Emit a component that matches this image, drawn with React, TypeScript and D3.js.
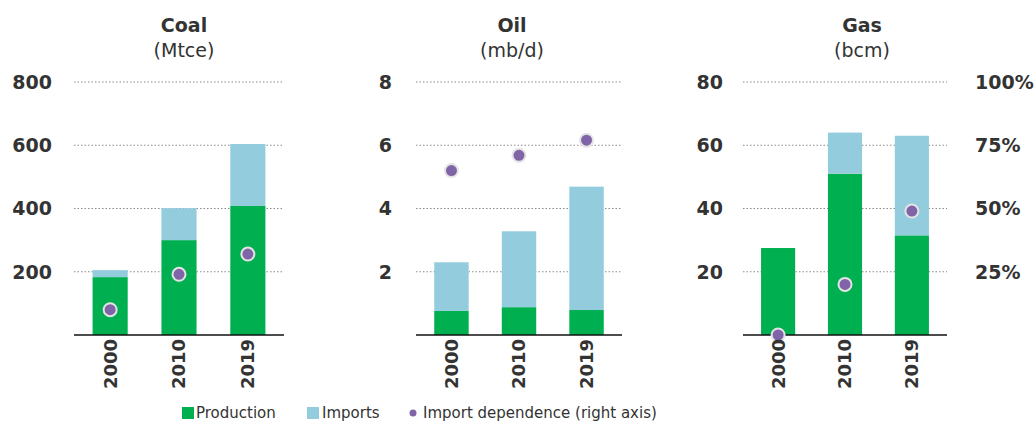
import React from 'react';
import * as d3 from 'd3';

// values
const years = ['2000', '2010', '2019'];

const coalProduction = [183, 300, 408];
const coalImports = [22, 101, 196];
const coalDependence = [0.1, 0.24, 0.32];

const oilProduction = [0.76, 0.88, 0.79];
const oilImports = [1.54, 2.4, 3.9];
const oilDependence = [0.65, 0.71, 0.77];

const gasProduction = [27.5, 51, 31.5];
const gasImports = [0, 13, 31.5];
const gasDependence = [0, 0.2, 0.49];

const coalTicks = [200, 400, 600, 800];
const oilTicks = [2, 4, 6, 8];
const gasTicks = [20, 40, 60, 80];
const shareTicks = [0.25, 0.5, 0.75, 1];

const legendItems = ['Production', 'Imports', 'Import dependence (right axis)'];

const GREEN = '#00b050';
const BLUE = '#93cddd';
const PURPLE = '#8064a8';
const TEXT = '#333333';
const FONT = '"DejaVu Sans", sans-serif';

const W = 1036;
const H = 428;
const top = 82;
const bottom = 335;

interface Panel {
  title: string;
  unit: string;
  x0: number;
  x1: number;
  labelX: number;
  titleX: number;
  max: number;
  ticks: number[];
  production: number[];
  imports: number[];
  dependence: number[];
  rightAxis: boolean;
}

const panels: Panel[] = [
  { title: 'Coal', unit: '(Mtce)', x0: 74, x1: 284, labelX: 52, titleX: 184, max: 800, ticks: coalTicks,
    production: coalProduction, imports: coalImports, dependence: coalDependence, rightAxis: false },
  { title: 'Oil', unit: '(mb/d)', x0: 416, x1: 622, labelX: 392, titleX: 512, max: 8, ticks: oilTicks,
    production: oilProduction, imports: oilImports, dependence: oilDependence, rightAxis: false },
  { title: 'Gas', unit: '(bcm)', x0: 743, x1: 947, labelX: 723, titleX: 862, max: 80, ticks: gasTicks,
    production: gasProduction, imports: gasImports, dependence: gasDependence, rightAxis: true },
];

const shareScale = d3.scaleLinear().domain([0, 1]).range([bottom, top]);

function PanelChart({ p }: { p: Panel }) {
  const x = d3.scaleBand<string>()
    .domain(years)
    .range([p.x0, p.x1])
    .paddingInner(0.49)
    .paddingOuter(0.27);
  const y = d3.scaleLinear().domain([0, p.max]).range([bottom, top]);

  return (
    <g>
      <text x={p.titleX} y={32} textAnchor="middle" fontSize={19} fontWeight="bold" fill={TEXT}>{p.title}</text>
      <text x={p.titleX} y={57} textAnchor="middle" fontSize={19} fill={TEXT}>{p.unit}</text>

      {/* gridlines + left ticks */}
      {p.ticks.map(t => (
        <g key={t}>
          <line x1={p.x0} x2={p.x1} y1={y(t)} y2={y(t)} stroke="#8a8a8a" strokeWidth={1} strokeDasharray="1.5,2" />
          <text x={p.labelX} y={y(t)} dy="0.36em" textAnchor="end" fontSize={19} fontWeight="bold" fill={TEXT}>{t}</text>
        </g>
      ))}

      {p.rightAxis && shareTicks.map(t => (
        <text key={t} x={975} y={shareScale(t)} dy="0.36em" textAnchor="start" fontSize={19} fontWeight="bold" fill={TEXT}>
          {d3.format('.0%')(t)}
        </text>
      ))}

      {/* stacked bars */}
      {years.map((yr, i) => {
        const prod = p.production[i];
        const imp = p.imports[i];
        return (
          <g key={yr}>
            <rect x={x(yr)} width={x.bandwidth()} y={y(prod)} height={y(0) - y(prod)} fill={GREEN} />
            {imp > 0 && (
              <rect x={x(yr)} width={x.bandwidth()} y={y(prod + imp)} height={y(prod) - y(prod + imp)} fill={BLUE} />
            )}
          </g>
        );
      })}

      <line x1={p.x0} x2={p.x1} y1={bottom} y2={bottom} stroke="#111" strokeWidth={1.5} />

      {/* import dependence dots */}
      {years.map((yr, i) => (
        <circle key={yr} cx={(x(yr) as number) + x.bandwidth() / 2} cy={shareScale(p.dependence[i])} r={6.5}
          fill={PURPLE} stroke="#e4e4e4" strokeWidth={2} />
      ))}

      {/* year labels */}
      {years.map(yr => (
        <text key={yr} transform={`translate(${(x(yr) as number) + x.bandwidth() / 2},${bottom + 4}) rotate(-90)`}
          dy="0.36em" textAnchor="end" fontSize={18} fontWeight="bold" fill={TEXT}>{yr}</text>
      ))}
    </g>
  );
}

export default function App() {
  return (
    <svg width={W} height={H} style={{ position: 'absolute', left: 0, top: 0, fontFamily: FONT, background: '#fff' }}>
      <rect width={W} height={H} fill="#fff" />
      {panels.map(p => <PanelChart key={p.title} p={p} />)}

      {/* legend */}
      <g fontSize={15} fill={TEXT}>
        <rect x={182} y={407} width={12} height={12} fill={GREEN} />
        <text x={196} y={413} dy="0.36em">{legendItems[0]}</text>
        <rect x={307} y={407} width={12} height={12} fill={BLUE} />
        <text x={322} y={413} dy="0.36em">{legendItems[1]}</text>
        <circle cx={413} cy={413} r={3.5} fill={PURPLE} />
        <text x={423} y={413} dy="0.36em">{legendItems[2]}</text>
      </g>
    </svg>
  );
}
